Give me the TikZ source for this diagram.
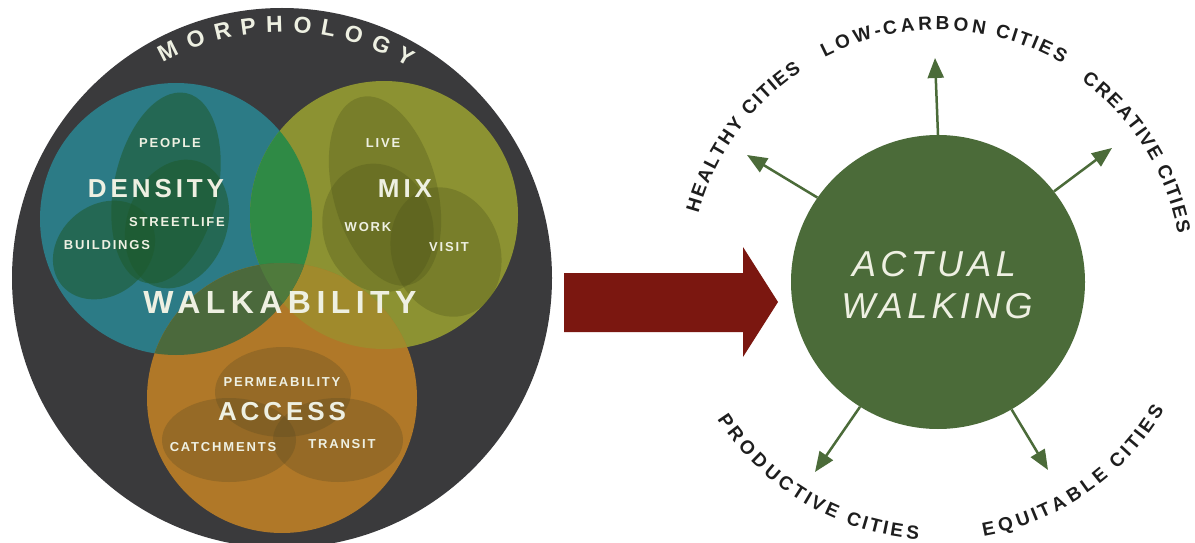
\documentclass[tikz,border=0pt]{standalone}
\usepackage{fontspec}
\setmainfont{Liberation Sans}
\usetikzlibrary{calc,arrows.meta,decorations.text}

\definecolor{morphgrey}{HTML}{3A3A3C}
\definecolor{denscol}{HTML}{2C7B86}
\definecolor{mixcol}{HTML}{8C9232}
\definecolor{acccol}{HTML}{B07828}
\definecolor{densmix}{HTML}{2F8A45}
\definecolor{densacc}{HTML}{4B693C}
\definecolor{mixacc}{HTML}{A08A2C}
\definecolor{allthree}{HTML}{4F7A3C}
\definecolor{labelcol}{HTML}{EEF0E2}
\definecolor{arrowred}{HTML}{7B1710}
\definecolor{walkgreen}{HTML}{4B6B39}
\definecolor{citycol}{HTML}{1E1E1E}
\definecolor{densdark}{HTML}{1E5A2C}
\definecolor{mixdark}{HTML}{4A5218}
\definecolor{accdark}{HTML}{5A4A22}

\newcommand\cityfont{\fontsize{19}{19}\selectfont\bfseries}
\newcommand\morphfont{\fontsize{23}{23}\selectfont\bfseries}

\tikzset{
  bigword/.style={text=labelcol,inner sep=0pt,font=\fontsize{26}{26}\selectfont\bfseries\addfontfeatures{LetterSpace=15}},
  hugeword/.style={text=labelcol,inner sep=0pt,font=\fontsize{32}{32}\selectfont\bfseries\addfontfeatures{LetterSpace=17}},
  smallword/.style={text=labelcol,inner sep=0pt,font=\fontsize{13}{13}\selectfont\bfseries\addfontfeatures{LetterSpace=14}},
  walkword/.style={text=labelcol,inner sep=0pt,font=\fontsize{36}{36}\selectfont\itshape\addfontfeatures{LetterSpace=12}},
  subset/.style={fill=#1,fill opacity=0.55},
  outcome/.style={walkgreen,line width=2.5pt,-{Triangle[length=20pt,width=16pt]}},
  arctext/.style 2 args={decorate,decoration={text effects along path,text={#2},
      text effects/.cd,text along path,fit text to path,characters={text=#1,font=\cityfont}}},
}

\begin{document}
\begin{tikzpicture}[x=1pt,y=1pt]
    \useasboundingbox (0,0) rectangle (1195,542);
    \fill[white] (0,0) rectangle (1195,542);
    %% Centres
    \coordinate (mo) at (282,264);
    \coordinate (de) at (176,323);
    \coordinate (mx) at (384,327);
    \coordinate (ac) at (282,144);
    \coordinate (cc) at (938,264);
    %% Morphology disc
    \fill[morphgrey] (mo) circle[radius=270];
    \path[decorate,decoration={text effects along path,text={MORPHOLOGY},
            text effects/.cd,text along path,fit text to path,characters={text=labelcol,font=\morphfont}}]
        ($(mo)+(119:246)$) arc[start angle=119,end angle=59,radius=246];
    %% Three circles
    \fill[denscol] (de) circle[radius=136];
    \fill[mixcol] (mx) circle[radius=134];
    \fill[acccol] (ac) circle[radius=135];
    \begin{scope}
        \clip (mx) circle[radius=134];
        \fill[mixacc] (ac) circle[radius=135];
    \end{scope}
    \begin{scope}
        \clip (de) circle[radius=136];
        \fill[densmix] (mx) circle[radius=134];
        \fill[densacc] (ac) circle[radius=135];
        \clip (mx) circle[radius=134];
        \fill[allthree] (ac) circle[radius=135];
    \end{scope}
    %% Ellipses
    \fill[subset=densdark,rotate around={-12:(166,354)}] (166,354) ellipse[x radius=52,y radius=97];
    \fill[subset=densdark,rotate around={-20:(177,318)}] (177,318) ellipse[x radius=50,y radius=66];
    \fill[subset=densdark,rotate around={40:(104,292)}] (104,292) ellipse[x radius=55,y radius=45];
    \fill[subset=mixdark,fill opacity=0.3,rotate around={15:(385,351)}] (385,351) ellipse[x radius=52,y radius=97];
    \fill[subset=mixdark,fill opacity=0.3,rotate around={15:(378,314)}] (378,314) ellipse[x radius=55,y radius=65];
    \fill[subset=mixdark,fill opacity=0.3,rotate around={20:(446,290)}] (446,290) ellipse[x radius=54,y radius=66];
    \fill[subset=accdark,fill opacity=0.3] (283,150) ellipse[x radius=68,y radius=45];
    \fill[subset=accdark,fill opacity=0.3] (229,102) ellipse[x radius=67,y radius=42];
    \fill[subset=accdark,fill opacity=0.3] (338,102) ellipse[x radius=65,y radius=42];
    %% Labels
    \node[smallword] (people) at (170,399) {PEOPLE};
    \node[bigword] (density) at (156,353) {DENSITY};
    \node[smallword] (street) at (177,320) {STREETLIFE};
    \node[smallword] (build) at (107,297) {BUILDINGS};
    \node[smallword] (live) at (383,399) {LIVE};
    \node[bigword] (mix) at (405,353) {MIX};
    \node[smallword] (work) at (368,315) {WORK};
    \node[smallword] (visit) at (449,295) {VISIT};
    \node[hugeword] (walkab) at (280,240) {WALKABILITY};
    \node[smallword] (perm) at (282,160) {PERMEABILITY};
    \node[bigword] (access) at (282,130) {ACCESS};
    \node[smallword] (catch) at (223,95) {CATCHMENTS};
    \node[smallword] (transit) at (342,98) {TRANSIT};
    %% Big arrow
    \fill[arrowred] (564,210) -- (743,210) -- (743,185) -- (778,240)
        -- (743,295) -- (743,269) -- (564,269) -- cycle;
    %% Actual walking
    \node[circle,fill=walkgreen,minimum size=294pt,inner sep=0pt] (walk) at (938,260) {};
    \node[walkword] (actual) at (934,278) {ACTUAL};
    \node[walkword] (walking) at (937,236) {WALKING};
    %% Outcomes
    \coordinate (healthy) at (747,387);
    \coordinate (lowcarbon) at (935,484);
    \coordinate (creative) at (1112,394);
    \coordinate (productive) at (815,70);
    \coordinate (equitable) at (1048,72);
    \draw[outcome] (walk.145) -- (healthy);
    \draw[outcome] (walk.90) -- (lowcarbon);
    \draw[outcome] (walk.38) -- (creative);
    \draw[outcome] (walk.238) -- (productive);
    \draw[outcome] (walk.300) -- (equitable);
    \path[arctext={citycol}{HEALTHY CITIES}] ($(cc)+(165:248)$) arc[start angle=165,end angle=123.4,radius=248];
    \path[arctext={citycol}{LOW-CARBON CITIES}] ($(cc)+(117.2:248)$) arc[start angle=117.2,end angle=59.8,radius=248];
    \path[arctext={citycol}{CREATIVE CITIES}] ($(cc)+(54:244)$) arc[start angle=54,end angle=10.5,radius=244];
    \path[arctext={citycol}{PRODUCTIVE CITIES}] ($(cc)+(212.6:262)$) arc[start angle=212.6,end angle=265.7,radius=262];
    \path[arctext={citycol}{EQUITABLE CITIES}] ($(cc)+(280:262)$) arc[start angle=280,end angle=329.7,radius=262];
\end{tikzpicture}
\end{document}
